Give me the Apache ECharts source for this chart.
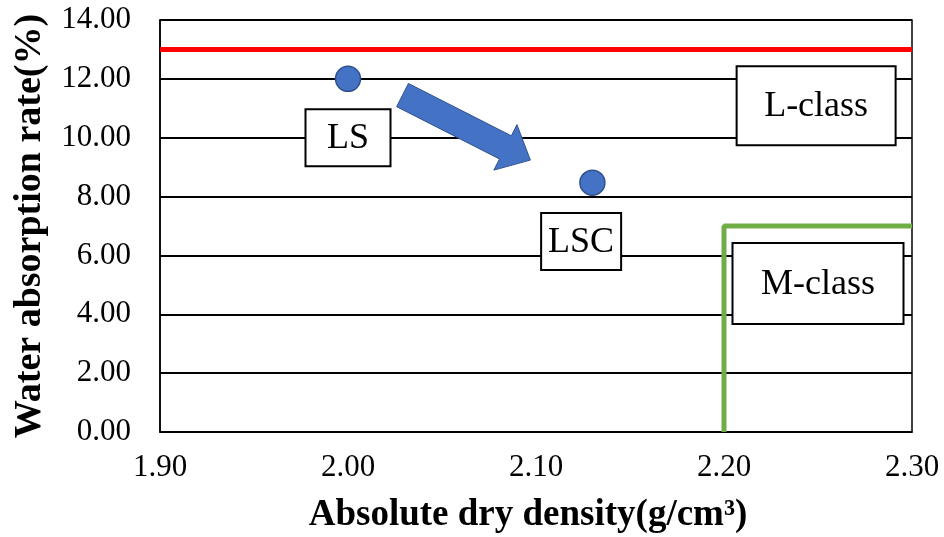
<!DOCTYPE html>
<html>
<head>
<meta charset="utf-8">
<script src="https://cdn.jsdelivr.net/npm/echarts@6/dist/echarts.min.js"></script>
<style>html,body{margin:0;padding:0;background:#fff;}#c{width:944px;height:537px;}</style>
</head>
<body>
<div id="c"></div>
<script>
// ---- data ----
var xTicks = [1.9, 2.0, 2.1, 2.2, 2.3];
var yTicks = [0, 2, 4, 6, 8, 10, 12, 14];
var pointNames = ['LS', 'LSC'];
var pointX = [2.00, 2.13];
var pointY = [12.0, 8.47];
var lClassLimit = 13.0;          // red line (L-class upper limit)
var mClassDensity = 2.20;        // green boundary x
var mClassAbsorption = 7.0;      // green boundary y
var labelNames = ['LS', 'LSC', 'L-class', 'M-class'];
var labelX = [2.00, 2.124, 2.249, 2.250];
var labelY = [10.0, 6.47, 11.09, 5.05];
var arrowFrom = [2.029, 11.45];
var arrowTo = [2.097, 9.24];

// ---- styles ----
var FONT = "'Liberation Serif', 'Times New Roman', serif";
var boxSizes = {'LS': [85, 57], 'LSC': [80, 57], 'L-class': [159, 79], 'M-class': [171, 81]};

var chart = echarts.init(document.getElementById('c'));
var xMin = xTicks[0], xMax = xTicks[xTicks.length - 1];
var yMin = yTicks[0], yMax = yTicks[yTicks.length - 1];

var option = {
  animation: false,
  grid: {left: 160, right: 32, top: 20, bottom: 105, show: true, borderColor: '#000', borderWidth: 1.5,
    containLabel: false, outerBoundsMode: 'none'},
  xAxis: {
    type: 'value', min: xMin, max: xMax, interval: 0.1,
    axisLine: {show: true, onZero: false, lineStyle: {color: '#000', width: 1.5}},
    axisTick: {show: false},
    splitLine: {show: false},
    axisLabel: {fontFamily: FONT, fontSize: 31, color: '#000', margin: 20,
      formatter: function (v) { return v.toFixed(2); }},
    name: 'Absolute dry density(g/cm³)', nameLocation: 'middle', nameGap: 65,
    nameTextStyle: {fontFamily: FONT, fontSize: 37, fontWeight: 'bold', color: '#000', padding: [0, 16, 0, 0]}
  },
  yAxis: {
    type: 'value', min: yMin, max: yMax, interval: 2,
    axisLine: {show: true, lineStyle: {color: '#000', width: 1.5}},
    axisTick: {show: false},
    splitLine: {show: true, lineStyle: {color: '#000', width: 2}},
    axisLabel: {fontFamily: FONT, fontSize: 31, color: '#000', margin: 29,
      formatter: function (v) { return v.toFixed(2); }},
    name: 'Water absorption rate(%)', nameLocation: 'middle', nameGap: 111,
    nameTextStyle: {fontFamily: FONT, fontSize: 38, fontWeight: 'bold', color: '#000'}
  },
  series: [
    {
      type: 'line', data: [[xMin, lClassLimit], [xMax, lClassLimit]],
      symbol: 'none', lineStyle: {color: '#FF0000', width: 5}, z: 3
    },
    {
      type: 'line', data: [[mClassDensity, yMin], [mClassDensity, mClassAbsorption], [xMax, mClassAbsorption]],
      symbol: 'none', lineStyle: {color: '#70AD47', width: 5}, z: 3
    },
    {
      type: 'custom', z: 4,
      data: [[arrowFrom[0], arrowFrom[1], arrowTo[0], arrowTo[1]]],
      renderItem: function (params, api) {
        var a = api.coord([api.value(0), api.value(1)]);
        var b = api.coord([api.value(2), api.value(3)]);
        var dx = b[0] - a[0], dy = b[1] - a[1];
        var L = Math.sqrt(dx * dx + dy * dy);
        var ux = dx / L, uy = dy / L, nx = -uy, ny = ux;
        var bw = 13, hw = 25.5, hl = 28;
        var bx = b[0] - ux * hl, by = b[1] - uy * hl;
        var pts = [
          [a[0] + nx * bw, a[1] + ny * bw],
          [bx + nx * bw, by + ny * bw],
          [bx + nx * hw, by + ny * hw],
          [b[0], b[1]],
          [bx - nx * hw, by - ny * hw],
          [bx - nx * bw, by - ny * bw],
          [a[0] - nx * bw, a[1] - ny * bw]
        ];
        return {type: 'polygon', shape: {points: pts},
          style: {fill: '#4472C4', stroke: '#2F528F', lineWidth: 1}};
      }
    },
    {
      type: 'custom', z: 5,
      data: labelNames.map(function (n, i) { return [labelX[i], labelY[i], n]; }),
      renderItem: function (params, api) {
        var c = api.coord([api.value(0), api.value(1)]);
        var name = labelNames[params.dataIndex];
        var s = boxSizes[name];
        return {
          type: 'group',
          children: [
            {type: 'rect', shape: {x: c[0] - s[0] / 2, y: c[1] - s[1] / 2, width: s[0], height: s[1]},
              style: {fill: '#fff', stroke: '#000', lineWidth: 2}},
            {type: 'text', x: c[0], y: c[1] + 1,
              style: {text: name, fill: '#000', font: '36px ' + FONT, align: 'center', verticalAlign: 'middle'}}
          ]
        };
      }
    },
    {
      type: 'scatter', z: 6,
      data: pointX.map(function (x, i) { return [x, pointY[i]]; }),
      symbolSize: 25,
      itemStyle: {color: '#4472C4', borderColor: '#2F528F', borderWidth: 1.5, opacity: 1}
    }
  ]
};
chart.setOption(option);
</script>
</body>
</html>
